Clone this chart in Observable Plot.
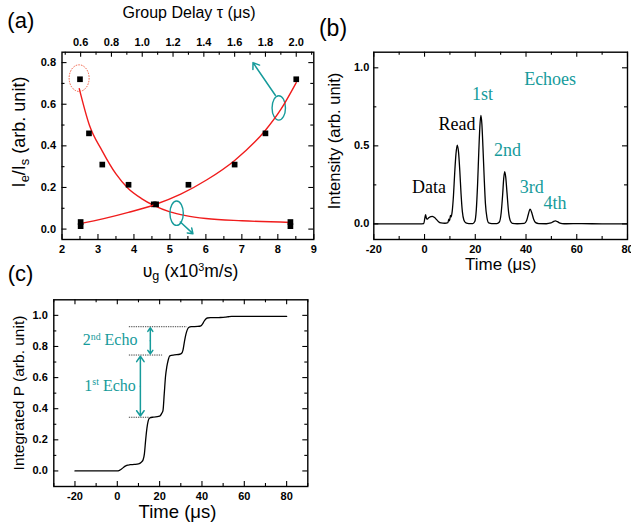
<!DOCTYPE html>
<html><head><meta charset="utf-8">
<script src="https://cdn.jsdelivr.net/npm/d3@7"></script>
<script src="https://cdn.jsdelivr.net/npm/@observablehq/plot@0.6"></script>
<style>
body{margin:0;background:#fff;}
#fig{position:relative;width:631px;height:529px;overflow:hidden;background:#fff;font-family:Arial,"Liberation Sans",sans-serif;}
#fig svg{position:absolute;overflow:visible;}
.lab{position:absolute;white-space:nowrap;line-height:1;color:#000;}
.ctr{transform:translate(-50%,-50%);}
.rot{transform:translate(-50%,-50%) rotate(-90deg);}
.ser{font-family:"Liberation Serif","Times New Roman",serif;color:#169b9b;font-size:16px;}
.sub{font-size:0.72em;position:relative;top:0.3em;}
.sup{font-size:0.62em;position:relative;top:-0.55em;}
</style></head><body><div id="fig"></div>
<script>
// ---------- panel (a) data ----------
const velDomain = [2, 9];
const tauDomain = [0.479, 2.114];
const ratioDomain = [-0.05, 0.85];
const velTicks = [2, 3, 4, 5, 6, 7, 8, 9];
const velMinor = [2.5, 3.5, 4.5, 5.5, 6.5, 7.5, 8.5];
const tauTicks = [0.6, 0.8, 1.0, 1.2, 1.4, 1.6, 1.8, 2.0];
const tauMinor = [0.5, 0.7, 0.9, 1.1, 1.3, 1.5, 1.7, 1.9, 2.1];
const ratioTicks = [0, 0.2, 0.4, 0.6, 0.8];
const ratioMinor = [0.1, 0.3, 0.5, 0.7];
// measured points vs group velocity (bottom axis)
const aVel = [2.5, 2.75, 3.12, 3.85, 4.55, 8.35, 8.35];
const aVelRatio = [0.72, 0.46, 0.31, 0.213, 0.119, 0.034, 0.014];
// same points vs group delay (top axis)
const aTau = [2.0, 1.8, 1.6, 1.3, 1.09, 0.6, 0.6];
const aTauRatio = [0.72, 0.46, 0.31, 0.213, 0.119, 0.034, 0.014];
// fitted curves
const aVelFitX = [2.48, 2.76, 3.12, 3.5, 3.84, 4.2, 4.55, 5.0, 5.44, 6.0, 7.0, 8.36];
const aVelFitY = [0.675, 0.5, 0.375, 0.265, 0.195, 0.148, 0.114, 0.083, 0.065, 0.051, 0.04, 0.032];
const aTauFitX = [0.595, 0.75, 0.91, 1.08, 1.25, 1.42, 1.6, 1.8, 1.9, 2.0];
const aTauFitY = [0.026, 0.05, 0.08, 0.117, 0.168, 0.237, 0.33, 0.475, 0.575, 0.704];
// annotations
const aArrowX1 = [7.93, 5.29], aArrowY1 = [0.643, 0.034];
const aArrowX2 = [7.31, 5.64], aArrowY2 = [0.80, -0.022];
const aEllipseX = [8.04, 5.2], aEllipseY = [0.58, 0.074];
const aMarkX = [2.49], aMarkY = [0.723];

// ---------- panel (b) data ----------
const timeDomainB = [-20, 80];
const intDomain = [-0.1, 1.1];
const timeTicksB = [-20, 0, 20, 40, 60, 80];
const timeMinorB = [-10, 10, 30, 50, 70];
const intTicks = [0, 0.5, 1.0];
const intMinor = [0.25, 0.75];
const bTime = [-20, -10, -2, -0.3, 0.1, 0.4, 0.7, 1.0, 1.4, 2.2, 3.0, 3.8, 4.6, 5.4, 6.5, 8.0, 9.2, 9.6, 9.9, 10.2, 10.5, 10.9, 11.4, 11.9, 12.4, 12.9, 13.4, 13.9, 14.4, 14.9, 15.5, 16.3, 17.5, 19.0, 19.8, 20.4, 20.9, 21.4, 21.8, 22.2, 22.6, 23.0, 23.5, 24.0, 24.6, 25.3, 26.5, 28.5, 29.5, 30.2, 30.8, 31.2, 31.6, 32.0, 32.5, 33.1, 33.8, 34.6, 36.5, 39.3, 40.2, 40.9, 41.6, 42.3, 43.0, 43.8, 45.0, 48.0, 49.8, 50.8, 51.6, 52.4, 53.4, 55.0, 62, 70, 80];
const bIntensity = [0, 0, 0, 0.002, 0.035, 0.06, 0.038, 0.03, 0.035, 0.045, 0.048, 0.042, 0.03, 0.016, 0.006, 0.004, 0.008, 0.03, 0.02, 0.055, 0.045, 0.08, 0.18, 0.33, 0.45, 0.505, 0.46, 0.34, 0.19, 0.08, 0.025, 0.006, 0.002, 0.002, 0.015, 0.09, 0.25, 0.47, 0.62, 0.695, 0.64, 0.5, 0.3, 0.13, 0.04, 0.006, 0.002, 0.002, 0.012, 0.07, 0.19, 0.29, 0.335, 0.3, 0.2, 0.08, 0.02, 0.004, 0.001, 0.003, 0.02, 0.06, 0.095, 0.07, 0.03, 0.008, 0.002, 0.001, 0.006, 0.015, 0.019, 0.014, 0.005, 0.001, 0.002, 0, 0];
const bLabels = ["Data", "Read", "1st", "Echoes", "2nd", "3rd", "4th"];
const bLabelTime = [1.8, 12.8, 22.8, 49.5, 32.7, 42.3, 51.4];
const bLabelInt = [0.233, 0.64, 0.828, 0.924, 0.47, 0.233, 0.131];
const bLabelTeal = [false, false, true, true, true, true, true];

// ---------- panel (c) data ----------
const timeDomainC = [-30, 90];
const cumDomain = [-0.1, 1.1];
const timeTicksC = [-20, 0, 20, 40, 60, 80];
const timeMinorC = [-30, -10, 10, 30, 50, 70, 90];
const cumTicks = [0, 0.2, 0.4, 0.6, 0.8, 1.0];
const cumMinor = [0.1, 0.3, 0.5, 0.7, 0.9];
const cTime = [-20, -10, -1, 0, 1, 2, 3, 4, 5, 6, 8, 10, 10.8, 11.5, 12.2, 12.8, 13.4, 14.0, 14.6, 15.3, 17, 19.5, 20.3, 21.0, 21.6, 22.2, 22.8, 23.4, 24.0, 24.8, 27, 29.5, 30.3, 31.0, 31.7, 32.4, 33.0, 33.7, 35, 38, 39.5, 40.3, 41.0, 41.7, 42.5, 44, 48, 51, 52.5, 54, 60, 70, 80];
const cIntegrated = [0, 0, 0, 0, 0.004, 0.012, 0.024, 0.033, 0.038, 0.04, 0.042, 0.045, 0.05, 0.058, 0.072, 0.11, 0.2, 0.275, 0.322, 0.34, 0.346, 0.35, 0.355, 0.37, 0.39, 0.5, 0.61, 0.67, 0.71, 0.74, 0.746, 0.75, 0.755, 0.775, 0.83, 0.878, 0.905, 0.922, 0.927, 0.929, 0.933, 0.945, 0.962, 0.975, 0.983, 0.985, 0.986, 0.988, 0.991, 0.993, 0.993, 0.993, 0.993];
const cGuideY = [0.927, 0.745, 0.345];
const cGuideStart = [5.7, 5.7, 5.7];
const cGuideEnd = [33, 21.4, 15.1];
const cArrowX = [15.6, 10.9];
const cArrowTop = [0.92, 0.737];
const cArrowBottom = [0.752, 0.353];

// ---------- drawing ----------
const TEAL = "#169b9b", RED = "#f01c1c";
const fig = document.getElementById("fig");
const baseStyle = {fontFamily: "Arial, 'Liberation Sans', sans-serif", fontSize: "11px", fontWeight: "bold", color: "black", background: "transparent", overflow: "visible"};
const within = (vals, dom) => vals.filter(v => v >= Math.min(...dom) - 1e-9 && v <= Math.max(...dom) + 1e-9);

function frameTicks(P, {xMajor = [], xMinor = [], yMajor = [], yMinor = [], xSides = [], ySides = []}) {
  const iw = P.w - P.ml - P.mr, ih = P.h - P.mt - P.mb;
  const marks = [];
  for (const side of xSides) for (const [vals, len] of [[xMajor, 5], [xMinor, 3]]) {
    marks.push(Plot.tickX(vals, {x: d => d, stroke: "black", strokeWidth: 1.1,
      insetTop: side === "bottom" ? ih - len : 0, insetBottom: side === "top" ? ih - len : 0}));
  }
  for (const side of ySides) for (const [vals, len] of [[yMajor, 5], [yMinor, 3]]) {
    marks.push(Plot.tickY(vals, {y: d => d, stroke: "black", strokeWidth: 1.1,
      insetRight: side === "left" ? iw - len : 0, insetLeft: side === "right" ? iw - len : 0}));
  }
  return marks;
}
function dims(P) {
  return {width: P.w, height: P.h, marginTop: P.mt, marginRight: P.mr, marginBottom: P.mb, marginLeft: P.ml};
}
function put(node, left, top) {
  node.style.left = left + "px"; node.style.top = top + "px"; fig.appendChild(node); return node;
}
function label(html, x, y, size, cls = "ctr") {
  const d = document.createElement("div");
  d.className = "lab " + cls;
  d.innerHTML = html;
  d.style.fontSize = size + "px";
  return put(d, x, y);
}
const f1 = d3.format(".1f");

// panel (a)
const PA = {w: 320, h: 270, mt: 51.7, mr: 6.7, mb: 31, ml: 61.5};
const velPts = aVel.map((x, i) => ({x, y: aVelRatio[i]}));
const tauPts = aTau.map((x, i) => ({x, y: aTauRatio[i]}));
const velFit = aVelFitX.map((x, i) => ({x, y: aVelFitY[i]}));
const tauFit = aTauFitX.map((x, i) => ({x, y: aTauFitY[i]}));
const aArrows = aArrowX1.map((x1, i) => ({x1, y1: aArrowY1[i], x2: aArrowX2[i], y2: aArrowY2[i]}));
const chartA = Plot.plot({
  ...dims(PA), style: baseStyle,
  x: {domain: velDomain}, y: {domain: ratioDomain},
  marks: [
    ...frameTicks(PA, {xMajor: velTicks, xMinor: within(velMinor, velDomain), yMajor: ratioTicks, yMinor: ratioMinor, xSides: ["bottom"], ySides: ["left", "right"]}),
    Plot.axisX({anchor: "bottom", ticks: velTicks, tickFormat: d => String(d), tickSize: 0, tickPadding: 5.5, label: null}),
    Plot.axisY({anchor: "left", ticks: ratioTicks, tickFormat: f1, tickSize: 0, tickPadding: 6, label: null}),
    Plot.line(velFit, {x: "x", y: "y", stroke: RED, strokeWidth: 1.4, curve: "monotone-x"}),
    Plot.arrow(aArrows, {x1: "x1", y1: "y1", x2: "x2", y2: "y2", stroke: TEAL, strokeWidth: 1.5, headLength: 7, headAngle: 70}),
    Plot.dot(velPts, {x: "x", y: "y", symbol: "square", r: 3.2, fill: "black", stroke: "none"}),
    Plot.frame({stroke: "black", strokeWidth: 1.4})
  ]
});
put(chartA, 0, 0);
{
  const sx = chartA.scale("x"), sy = chartA.scale("y"), g = d3.select(chartA);
  aEllipseX.forEach((x, i) => g.append("ellipse").attr("cx", sx.apply(x)).attr("cy", sy.apply(aEllipseY[i]))
    .attr("rx", 6.7).attr("ry", 12.2).attr("fill", "none").attr("stroke", TEAL).attr("stroke-width", 1.4));
  aMarkX.forEach((x, i) => g.append("ellipse").attr("cx", sx.apply(x)).attr("cy", sy.apply(aMarkY[i]))
    .attr("rx", 10).attr("ry", 13.3).attr("fill", "none").attr("stroke", "#f0583c").attr("stroke-width", 1)
    .attr("stroke-dasharray", "1.5,1.2"));
}
const chartAtop = Plot.plot({
  ...dims(PA), style: baseStyle,
  x: {domain: tauDomain}, y: {domain: ratioDomain, axis: null},
  marks: [
    ...frameTicks(PA, {xMajor: tauTicks, xMinor: within(tauMinor, tauDomain), xSides: ["top"]}),
    Plot.axisX({anchor: "top", ticks: tauTicks, tickFormat: f1, tickSize: 0, tickPadding: 6, label: null}),
    Plot.line(tauFit, {x: "x", y: "y", stroke: RED, strokeWidth: 1.4, curve: "monotone-x"}),
    Plot.dot(tauPts, {x: "x", y: "y", symbol: "square", r: 3.2, fill: "black", stroke: "none"})
  ]
});
put(chartAtop, 0, 0);

// panel (b)
const PB = {w: 311, h: 270, mt: 51.7, mr: 4, mb: 31, ml: 53.3};
const bData = bTime.map((t, i) => ({t, v: bIntensity[i]}));
const bLab = bLabels.map((s, i) => ({s, t: bLabelTime[i], v: bLabelInt[i], teal: bLabelTeal[i]}));
const chartB = Plot.plot({
  ...dims(PB), style: baseStyle,
  x: {domain: timeDomainB}, y: {domain: intDomain},
  marks: [
    ...frameTicks(PB, {xMajor: timeTicksB, xMinor: timeMinorB, yMajor: intTicks, yMinor: intMinor, xSides: ["bottom", "top"], ySides: ["left", "right"]}),
    Plot.axisX({anchor: "bottom", ticks: timeTicksB, tickFormat: d => String(d), tickSize: 0, tickPadding: 5.5, label: null}),
    Plot.axisY({anchor: "left", ticks: intTicks, tickFormat: f1, tickSize: 0, tickPadding: 4.5, label: null}),
    Plot.line(bData, {x: "t", y: "v", stroke: "black", strokeWidth: 1.3, curve: "monotone-x"}),
    Plot.text(bLab.filter(d => !d.teal), {x: "t", y: "v", text: "s", fill: "black", fontFamily: "'Liberation Serif', 'Times New Roman', serif", fontSize: 18, fontWeight: "normal"}),
    Plot.text(bLab.filter(d => d.teal), {x: "t", y: "v", text: "s", fill: TEAL, fontFamily: "'Liberation Serif', 'Times New Roman', serif", fontSize: 18, fontWeight: "normal"}),
    Plot.frame({stroke: "black", strokeWidth: 1.4})
  ]
});
put(chartB, 320, 0);

// panel (c)
const PC = {w: 320, h: 259, mt: 29.3, mr: 12.7, mb: 43, ml: 53.3};
const cData = cTime.map((t, i) => ({t, v: cIntegrated[i]}));
const cGuides = cGuideY.map((y, i) => ({y, x1: cGuideStart[i], x2: cGuideEnd[i]}));
const cArrows = cArrowX.flatMap((x, i) => {
  const m = (cArrowTop[i] + cArrowBottom[i]) / 2;
  return [{x, y1: m, y2: cArrowTop[i]}, {x, y1: m, y2: cArrowBottom[i]}];
});
const chartC = Plot.plot({
  ...dims(PC), style: baseStyle,
  x: {domain: timeDomainC}, y: {domain: cumDomain},
  marks: [
    ...frameTicks(PC, {xMajor: timeTicksC, xMinor: timeMinorC, yMajor: cumTicks, yMinor: cumMinor, xSides: ["bottom", "top"], ySides: ["left", "right"]}),
    Plot.axisX({anchor: "bottom", ticks: timeTicksC, tickFormat: d => String(d), tickSize: 0, tickPadding: 6, label: null}),
    Plot.axisY({anchor: "left", ticks: cumTicks, tickFormat: f1, tickSize: 0, tickPadding: 6, label: null}),
    Plot.ruleY(cGuides, {y: "y", x1: "x1", x2: "x2", stroke: "#444", strokeWidth: 1, strokeDasharray: "1.3,1"}),
    Plot.arrow(cArrows, {x1: "x", x2: "x", y1: "y1", y2: "y2", stroke: TEAL, strokeWidth: 1.5, headLength: 6.5, headAngle: 70}),
    Plot.line(cData, {x: "t", y: "v", stroke: "black", strokeWidth: 1.3, curve: "monotone-x"}),
    Plot.frame({stroke: "black", strokeWidth: 1.4})
  ]
});
put(chartC, 0, 270);

// titles and labels
label("(a)", 20.8, 21, 22);
label("(b)", 333, 27.5, 23);
label("(c)", 20.5, 274, 22);
label("Group Delay &tau; (&mu;s)", 189, 12.5, 16);
label("&upsilon;<span class='sub'>g</span> (x10<span class='sup'>3</span>m/s)", 190.5, 271.5, 17.5);
label("I<span class='sub'>e</span>/I<span class='sub'>s</span> (arb. unit)", 18.5, 132, 18, "rot");
label("Intensity (arb. unit)", 334, 141.3, 16.5, "rot");
label("Time (&mu;s)", 500.8, 263.5, 17);
label("Integrated P (arb. unit)", 18.7, 393.3, 15.5, "rot");
label("Time (&mu;s)", 177.5, 512, 18.5);
label("2<span class='sup'>nd</span> Echo", 82.7, 332.3, 16, "ser");
label("1<span class='sup'>st</span> Echo", 84.3, 377.6, 16, "ser");
</script></body></html>
